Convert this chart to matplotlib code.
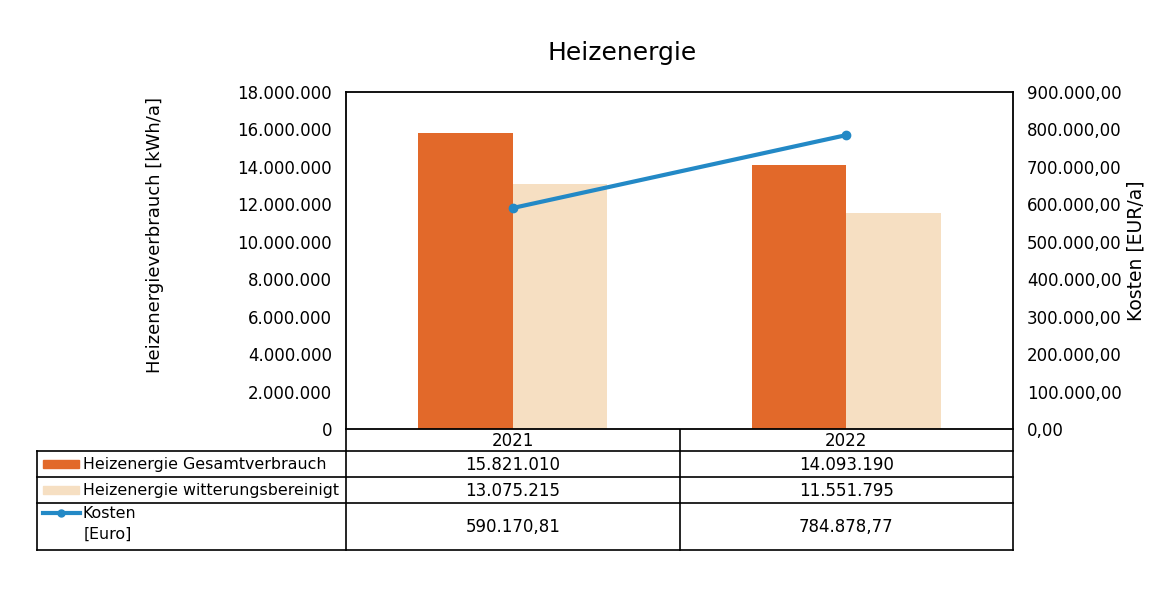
import matplotlib
matplotlib.use("Agg")
import matplotlib.pyplot as plt
from matplotlib.patches import Rectangle
import numpy as np

# ---- data ----
years = ["2021", "2022"]
gesamt = [15821010, 14093190]
witterung = [13075215, 11551795]
kosten = [590170.81, 784878.77]
series_labels = ["Heizenergie Gesamtverbrauch", "Heizenergie witterungsbereinigt", "Kosten"]
left_ticks = [0, 2000000, 4000000, 6000000, 8000000, 10000000, 12000000, 14000000, 16000000, 18000000]
right_ticks = [0, 100000, 200000, 300000, 400000, 500000, 600000, 700000, 800000, 900000]

C_ORANGE = "#E2692A"
C_BEIGE = "#F6DFC2"
C_BLUE = "#2389C6"

def de_int(v):
    return f"{int(round(v)):,}".replace(",", ".")

def de_dec(v):
    s = f"{v:,.2f}"
    return s.replace(",", "X").replace(".", ",").replace("X", ".")

W, H = 1149, 599
plt.rcParams['font.family'] = ['DejaVu Sans']
fig = plt.figure(figsize=(W / 100, H / 100), dpi=100)

# overlay axes in pixel coordinates for the table
bg = fig.add_axes([0, 0, 1, 1])
bg.set_xlim(0, W)
bg.set_ylim(H, 0)
bg.axis("off")

# main axes
L, R, T, B = 346, 1013, 92, 429
ax = fig.add_axes([L / W, 1 - B / H, (R - L) / W, (B - T) / H])
x = np.arange(len(years))
bw = 0.284
ax.bar(x - bw / 2, gesamt, bw, color=C_ORANGE, zorder=2)
ax.bar(x + bw / 2, witterung, bw, color=C_BEIGE, zorder=2)
ax.set_xlim(-0.5, len(years) - 0.5)
ax.set_ylim(0, 18000000)
ax.set_yticks(left_ticks)
ax.set_yticklabels([de_int(v) for v in left_ticks], fontsize=12)
ax.set_xticks([])
ax.tick_params(axis="y", length=0, pad=10)
for s in ax.spines.values():
    s.set_color("black")
    s.set_linewidth(1.3)

ax2 = ax.twinx()
ax2.plot(x, kosten, color=C_BLUE, lw=3, marker="o", ms=6, zorder=3)
ax2.set_ylim(0, 900000)
ax2.set_yticks(right_ticks)
ax2.set_yticklabels([de_dec(v) for v in right_ticks], fontsize=12)
ax2.tick_params(axis="y", length=0, pad=10)
for s in ax2.spines.values():
    s.set_visible(False)

fig.text(155 / W, 1 - 235 / H, "Heizenergieverbrauch [kWh/a]", rotation=90,
         ha="center", va="center", fontsize=13)
fig.text(1136 / W, 1 - 251 / H, "Kosten [EUR/a]", rotation=90,
         ha="center", va="center", fontsize=13.5)
fig.text(622 / W, 1 - 53 / H, "Heizenergie", ha="center", va="center", fontsize=18)

# ---- data table ----
lw = 1.2
rows_y = [429, 451, 477, 503, 550]
col_x = [37, L, (L + R) / 2, R]
for i in range(1, len(rows_y)):
    bg.plot([col_x[0], R], [rows_y[i], rows_y[i]], color="black", lw=lw)
for cx in col_x[1:]:
    bg.plot([cx, cx], [rows_y[0], rows_y[-1]], color="black", lw=lw)
bg.plot([col_x[0], col_x[0]], [rows_y[1], rows_y[-1]], color="black", lw=lw)

centers = [(col_x[1] + col_x[2]) / 2, (col_x[2] + col_x[3]) / 2]
for j, yr in enumerate(years):
    bg.text(centers[j], (rows_y[0] + rows_y[1]) / 2 + 1, yr, ha="center", va="center", fontsize=12)
    bg.text(centers[j], (rows_y[1] + rows_y[2]) / 2 + 1, de_int(gesamt[j]), ha="center", va="center", fontsize=12)
    bg.text(centers[j], (rows_y[2] + rows_y[3]) / 2 + 1, de_int(witterung[j]), ha="center", va="center", fontsize=12)
    bg.text(centers[j], (rows_y[3] + rows_y[4]) / 2 + 1, de_dec(kosten[j]), ha="center", va="center", fontsize=12)

# legend keys
ym1 = (rows_y[1] + rows_y[2]) / 2
ym2 = (rows_y[2] + rows_y[3]) / 2
bg.add_patch(Rectangle((43, ym1 - 4), 36, 8, color=C_ORANGE))
bg.add_patch(Rectangle((43, ym2 - 4), 36, 8, color=C_BEIGE))
bg.text(83, ym1, series_labels[0], ha="left", va="center", fontsize=11.4)
bg.text(83, ym2, series_labels[1], ha="left", va="center", fontsize=11.4)
yk = 513
bg.plot([43, 80], [yk, yk], color=C_BLUE, lw=3)
bg.plot([61], [yk], marker="o", color=C_BLUE, ms=5)
bg.text(82, yk, series_labels[2], ha="left", va="center", fontsize=11.4)
bg.text(84, 534, "[Euro]", ha="left", va="center", fontsize=11.4)

fig.savefig("out.png", dpi=100, facecolor="white")
